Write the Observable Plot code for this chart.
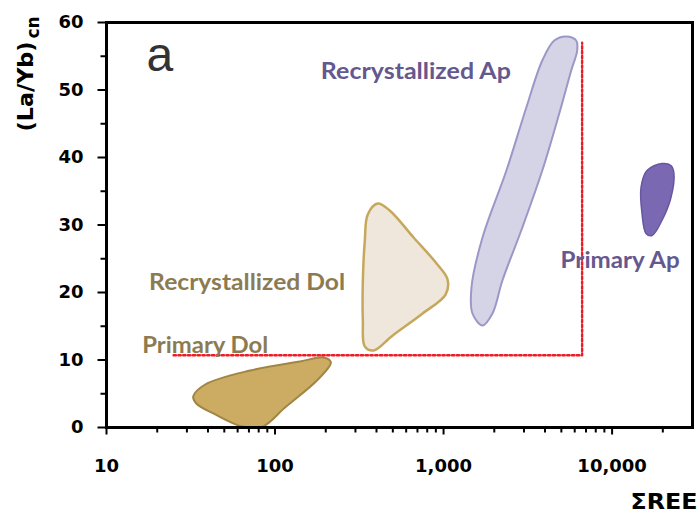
<!DOCTYPE html>
<html><head><meta charset="utf-8">
<script src="https://cdn.jsdelivr.net/npm/d3@7"></script>
<script src="https://cdn.jsdelivr.net/npm/@observablehq/plot@0.6"></script>
<style>body{margin:0;background:#fff}</style>
</head><body><div id="chart"></div>
<script>
// ---- data ----
const xTicks = [10, 100, 1000, 10000];
const xMinorTicks = [20,30,40,50,60,70,80,90,200,300,400,500,600,700,800,900,2000,3000,4000,5000,6000,7000,8000,9000,20000];
const yTicks = [0, 10, 20, 30, 40, 50, 60];
const yMinorTicks = [5, 15, 25, 35, 45, 55];

const primaryDolX = [32.7, 38.5, 71.1, 140.6, 195, 214.5, 179.7, 114.6, 83.8, 63.8, 44.2, 34.1];
const primaryDolY = [4.59, 6.37, 8.44, 9.78, 10.37, 9.63, 7.11, 2.96, 0.1, 0.15, 1.93, 3.56];

const recrystDolX = [407, 479, 664, 909, 1056, 1028, 751, 499, 385, 341, 332, 332, 341, 355];
const recrystDolY = [33.19, 32.15, 28.15, 24.30, 21.93, 19.70, 16.89, 13.63, 11.41, 12.0, 15.85, 21.78, 27.70, 31.56];

const recrystApX = [5342, 6124, 6207, 5721, 4858, 3852, 2934, 2235, 1950, 1702, 1484, 1464, 1702, 2360, 3098, 3852, 4538];
const recrystApY = [57.93, 57.33, 55.85, 52.89, 46.52, 38.07, 29.63, 21.78, 16.89, 15.11, 16.89, 20.74, 28.15, 38.07, 47.41, 54.37, 57.33];

const primaryApX = [19760, 22350, 23280, 22350, 19760, 17250, 15900, 15050, 14850, 16110];
const primaryApY = [39.11, 38.81, 37.63, 34.07, 30.67, 28.44, 28.74, 31.70, 35.56, 38.07];

const boundaryX = [25, 6640, 6640];
const boundaryY = [10.7, 10.7, 57];

const labelText = ["Recrystallized Ap", "Primary Ap", "Recrystallized Dol", "Primary Dol"];
const labelX = [187, 4950, 17.9, 16.3];
const labelY = [51.7, 23.6, 20.3, 11.1];

const panelLetter = "a";
const xTitle = "ΣREE";
const yTitleMain = "(La/Yb)";
const yTitleSub = "cn";

// ---- build ----
const pts = (xs, ys) => xs.map((x, i) => ({x, y: ys[i]}));
const labels = labelText.map((t, i) => ({t, x: labelX[i], y: labelY[i]}));
const apColor = "#65588f", dolColor = "#8c7b52";

// tick shapes drawn as thin filled rectangles
const tickDown = {draw(ctx, l) { ctx.rect(-1, 0, 2, l); }};
const tickLeft = {draw(ctx, l) { ctx.rect(-l, -1, l, 2); }};

const chart = Plot.plot({
  width: 700, height: 519,
  marginLeft: 106, marginRight: 8, marginTop: 22, marginBottom: 92,
  style: {fontFamily: "DejaVu Sans", background: "white", color: "black"},
  x: {type: "log", domain: [10, 30000]},
  y: {domain: [0, 60]},
  marks: [
    Plot.line(pts(primaryDolX, primaryDolY), {x: "x", y: "y", curve: "catmull-rom-closed", fill: "#ccac62", stroke: "#a08544", strokeWidth: 2}),
    Plot.line(pts(recrystDolX, recrystDolY), {x: "x", y: "y", curve: "catmull-rom-closed", fill: "#efe7dc", stroke: "#c6a85c", strokeWidth: 2.5}),
    Plot.line(pts(recrystApX, recrystApY), {x: "x", y: "y", curve: "catmull-rom-closed", fill: "#d5d3e6", stroke: "#9b97c6", strokeWidth: 2}),
    Plot.line(pts(primaryApX, primaryApY), {x: "x", y: "y", curve: "catmull-rom-closed", fill: "#7a69b2", stroke: "#6757a0", strokeWidth: 1.5}),
    Plot.line(pts(boundaryX, boundaryY), {x: "x", y: "y", stroke: "#ee1c25", strokeWidth: 2.4, strokeDasharray: "2.4,2.4"}),
    Plot.text(labels.slice(0, 2), {x: "x", y: "y", text: "t", textAnchor: "start", lineAnchor: "bottom", fill: apColor, fontFamily: "Lato", fontWeight: "bold", fontSize: 22}),
    Plot.text(labels.slice(2), {x: "x", y: "y", text: "t", textAnchor: "start", lineAnchor: "bottom", fill: dolColor, fontFamily: "Lato", fontWeight: "bold", fontSize: 23}),
    Plot.text([panelLetter], {frameAnchor: "top-left", text: d => d, dx: 40, dy: 48, textAnchor: "start", lineAnchor: "bottom", fontFamily: "Liberation Sans", fontSize: 48, fill: "#333"}),
    // tick labels
    Plot.axisX(xTicks, {tickSize: 0, tickPadding: 32, tickFormat: d3.format(","), fontSize: 18, fontWeight: "bold", fill: "black", label: null}),
    Plot.axisY(yTicks, {tickSize: 0, tickPadding: 23, fontSize: 18, fontWeight: "bold", fill: "black", label: null}),
    // tick marks
    Plot.vector(xTicks, {x: d => d, frameAnchor: "bottom", length: 7, anchor: "start", shape: tickDown, fill: "black", stroke: "none"}),
    Plot.vector(xMinorTicks, {x: d => d, frameAnchor: "bottom", length: 5, anchor: "start", shape: tickDown, fill: "black", stroke: "none"}),
    Plot.vector(yTicks, {y: d => d, frameAnchor: "left", length: 9, anchor: "start", shape: tickLeft, fill: "black", stroke: "none"}),
    Plot.vector(yMinorTicks, {y: d => d, frameAnchor: "left", length: 6, anchor: "start", shape: tickLeft, fill: "black", stroke: "none"}),
    Plot.frame({stroke: "black", strokeWidth: 3}),
    Plot.text([xTitle], {frameAnchor: "bottom-right", text: d => d, dx: 5, dy: 81, textAnchor: "end", lineAnchor: "bottom", fontSize: 22, fontWeight: "bold", fill: "black"}),
    Plot.text([yTitleMain], {frameAnchor: "top-left", text: d => d, dx: -74, dy: 109, rotate: -90, textAnchor: "start", lineAnchor: "bottom", fontSize: 22, fontWeight: "bold", fill: "black"}),
    Plot.text([yTitleSub], {frameAnchor: "top-left", text: d => d, dx: -68, dy: 16, rotate: -90, textAnchor: "start", lineAnchor: "bottom", fontSize: 17, fontWeight: "bold", fill: "black"})
  ]
});
document.getElementById("chart").appendChild(chart);

// fit label widths to the reference
const fitWidths = {"Recrystallized Ap": 190, "Primary Ap": 119, "Recrystallized Dol": 196, "Primary Dol": 126, "ΣREE": 67, "(La/Yb)": 90};
chart.querySelectorAll("text").forEach(t => {
  const w = fitWidths[t.textContent];
  if (w) { t.setAttribute("textLength", w); t.setAttribute("lengthAdjust", "spacingAndGlyphs"); }
});
</script>
</body></html>
